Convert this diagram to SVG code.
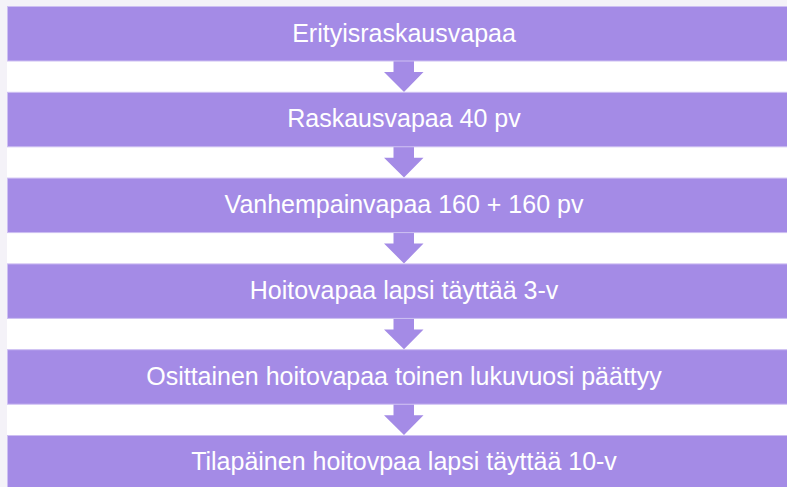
<svg xmlns="http://www.w3.org/2000/svg" width="787" height="487" viewBox="0 0 787 487">
<style>
.bg{fill:#f4f2f8}
.box{fill:#a48be6;stroke:#cdbff2;stroke-width:1}
.arr{fill:#a48be6}
.lbl{font-family:"Liberation Sans",Arial,sans-serif;font-size:25px;fill:#ffffff;text-anchor:middle}
</style>
<rect class="bg" x="0" y="0" width="787" height="487"/>
<rect x="7" y="6" width="780" height="481" fill="#ffffff"/>
<g id="connectors">
<path class="arr" d="M393.5,61 H414 V72 H423.5 L404,92 L384,72 H393.5 Z"/>
<path class="arr" d="M393.5,146.8 H414 V157.8 H423.5 L404,177.6 L384,157.8 H393.5 Z"/>
<path class="arr" d="M393.5,232.6 H414 V243.6 H423.5 L404,263.4 L384,243.6 H393.5 Z"/>
<path class="arr" d="M393.5,318.4 H414 V329.4 H423.5 L404,349.2 L384,329.4 H393.5 Z"/>
<path class="arr" d="M393.5,404.2 H414 V415.2 H423.5 L404,435 L384,415.2 H393.5 Z"/>
</g>
<g id="n1"><rect class="box" x="7.5" y="6.5" width="800" height="54.5"/><text class="lbl" x="404" y="41.5">Erityisraskausvapaa</text></g>
<g id="n2"><rect class="box" x="7.5" y="92.3" width="800" height="54.5"/><text class="lbl" x="404" y="127.3">Raskausvapaa 40 pv</text></g>
<g id="n3"><rect class="box" x="7.5" y="178.1" width="800" height="54.5"/><text class="lbl" x="404" y="213.1">Vanhempainvapaa 160 + 160 pv</text></g>
<g id="n4"><rect class="box" x="7.5" y="263.9" width="800" height="54.5"/><text class="lbl" x="404" y="298.9">Hoitovapaa lapsi täyttää 3-v</text></g>
<g id="n5"><rect class="box" x="7.5" y="349.7" width="800" height="54.5"/><text class="lbl" x="404" y="384.5">Osittainen hoitovapaa toinen lukuvuosi päättyy</text></g>
<g id="n6"><rect class="box" x="7.5" y="435.5" width="800" height="60"/><text class="lbl" x="404" y="470.3">Tilapäinen hoitovpaa lapsi täyttää 10-v</text></g>
</svg>
